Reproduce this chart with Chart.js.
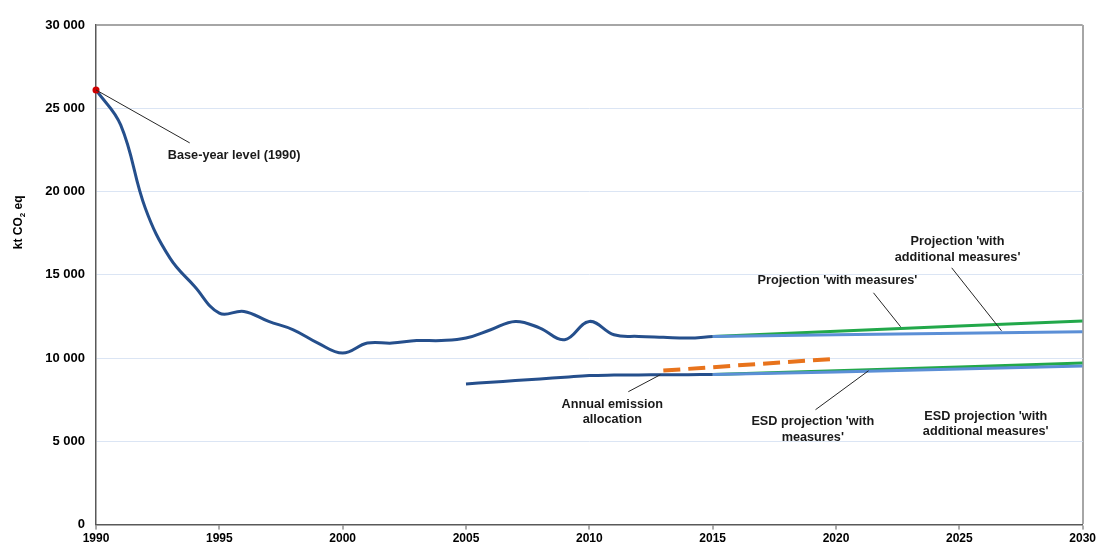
<!DOCTYPE html>
<html>
<head>
<meta charset="utf-8">
<script src="https://cdn.jsdelivr.net/npm/chart.js@4/dist/chart.umd.min.js"></script>
<style>
  html, body { margin: 0; padding: 0; background: #fff; overflow: hidden; }
  #wrap { width: 1098px; height: 548px; position: relative; }
</style>
</head>
<body>
<div id="wrap"><canvas id="chart"></canvas></div>
<script>
// historical total emissions (kt CO2 eq)
const histYears = [1990, 1991, 1992, 1993, 1994, 1995, 1996, 1997, 1998, 1999, 2000, 2001, 2002,
  2003, 2004, 2005, 2006, 2007, 2008, 2009, 2010, 2011, 2012, 2013, 2014, 2015];
const histValues = [26100, 24000, 19000, 16000, 14300, 12700, 12800, 12200, 11700, 10900, 10300, 10900, 10900,
  11050, 11050, 11200, 11700, 12200, 11800, 11100, 12200, 11400, 11300, 11250, 11200, 11300];

// projections of total emissions
const projYears = [2015, 2020, 2025, 2030];
const projWM = [11300, 11610, 11920, 12230];
const projWAM = [11300, 11400, 11490, 11580];

// ESD emissions
const esdYears = [2005, 2006, 2007, 2008, 2009, 2010, 2011, 2012, 2013, 2014, 2015];
const esdValues = [8450, 8550, 8650, 8750, 8850, 8950, 8980, 8990, 9000, 9000, 9020];
const esdWM = [9020, 9240, 9460, 9700];
const esdWAM = [9020, 9170, 9350, 9520];

// annual emission allocation
const aeaYears = [2013, 2014, 2015, 2016, 2017, 2018, 2019, 2020];
const aeaValues = [9250, 9350, 9450, 9560, 9660, 9760, 9860, 9950];

const baseYear = [1990];
const baseValue = [26100];

const yTicks = [0, 5000, 10000, 15000, 20000, 25000, 30000];
const xTicks = [1990, 1995, 2000, 2005, 2010, 2015, 2020, 2025, 2030];

// annotation labels and leader lines, in data units
const labels = [
  { x: 1995.6, lines: ['Base-year level (1990)'], y: [22140], leader: [1990, 26100, 1993.8, 22920] },
  { x: 2024.93, lines: ["Projection 'with", "additional measures'"], y: [16980, 16020], leader: [2024.69, 15420, 2026.71, 11640] },
  { x: 2020.06, lines: ["Projection 'with measures'"], y: [14640], leader: [2021.52, 13920, 2022.62, 11880] },
  { x: 2010.93, lines: ['Annual emission', 'allocation'], y: [7200, 6300], leader: [2011.58, 7980, 2012.88, 9000] },
  { x: 2019.06, lines: ["ESD projection 'with", "measures'"], y: [6180, 5220], leader: [2019.17, 6900, 2021.32, 9240] },
  { x: 2026.07, lines: ["ESD projection 'with", "additional measures'"], y: [6480, 5580] }
];

const FONT = '"Liberation Sans", Arial, sans-serif';

function pts(xs, ys) {
  return xs.map((x, i) => ({ x: x, y: ys[i] }));
}

function fmt(v) {
  return String(v).replace(/\B(?=(\d{3})+(?!\d))/g, ' ');
}

const annotationPlugin = {
  id: 'annotations',
  afterDatasetsDraw: chart => {
    const ctx = chart.ctx;
    const sx = chart.scales.x;
    const sy = chart.scales.y;
    ctx.save();
    ctx.strokeStyle = '#262626';
    ctx.lineWidth = 1;
    ctx.fillStyle = '#1a1a1a';
    ctx.font = 'bold 12.7px ' + FONT;
    ctx.textAlign = 'center';
    ctx.textBaseline = 'middle';
    labels.forEach(l => {
      if (l.leader) {
        ctx.beginPath();
        ctx.moveTo(sx.getPixelForValue(l.leader[0]), sy.getPixelForValue(l.leader[1]));
        ctx.lineTo(sx.getPixelForValue(l.leader[2]), sy.getPixelForValue(l.leader[3]));
        ctx.stroke();
      }
      l.lines.forEach((t, i) => {
        ctx.fillText(t, sx.getPixelForValue(l.x), sy.getPixelForValue(l.y[i]));
      });
    });
    // y axis title
    const a = chart.chartArea;
    ctx.translate(19, a.top + (a.bottom - a.top) * 0.395);
    ctx.rotate(-Math.PI / 2);
    ctx.fillStyle = '#000';
    ctx.textAlign = 'left';
    const p1 = 'kt CO';
    const p3 = ' eq';
    ctx.font = 'bold 8px ' + FONT;
    const w2 = ctx.measureText('2').width;
    ctx.font = 'bold 12px ' + FONT;
    const w1 = ctx.measureText(p1).width;
    const w3 = ctx.measureText(p3).width;
    const x0 = -(w1 + w2 + w3) / 2;
    ctx.fillText(p1, x0, 0);
    ctx.font = 'bold 8px ' + FONT;
    ctx.fillText('2', x0 + w1, 4);
    ctx.font = 'bold 12px ' + FONT;
    ctx.fillText(p3, x0 + w1 + w2, 0);
    ctx.restore();
  }
};

const ctx = document.getElementById('chart').getContext('2d');
new Chart(ctx, {
  type: 'line',
  data: {
    datasets: [
      { label: 'Base year', data: pts(baseYear, baseValue), showLine: false, clip: false,
        pointRadius: 3.5, pointBackgroundColor: '#d00000', pointBorderWidth: 0 },
      { label: 'Total emissions', data: pts(histYears, histValues), borderColor: '#254f8c',
        borderWidth: 3, tension: 0.4 },
      { label: 'ESD emissions', data: pts(esdYears, esdValues), borderColor: '#254f8c',
        borderWidth: 3, tension: 0.4 },
      { label: 'AEA', data: pts(aeaYears, aeaValues), borderColor: '#e8731c',
        borderWidth: 4, borderDash: [17, 8] },
      { label: 'WAM', data: pts(projYears, projWAM), borderColor: '#5b8fd6', borderWidth: 3 },
      { label: 'ESD WAM', data: pts(projYears, esdWAM), borderColor: '#5b8fd6', borderWidth: 3 },
      { label: 'WM', data: pts(projYears, projWM), borderColor: '#22a84a', borderWidth: 3 },
      { label: 'ESD WM', data: pts(projYears, esdWM), borderColor: '#22a84a', borderWidth: 3 }
    ].map(ds => ({ pointRadius: 0, fill: false, ...ds }))
  },
  options: {
    responsive: true,
    maintainAspectRatio: false,
    animation: false,
    layout: { padding: { top: 25, right: 0, bottom: 0, left: 0 } },
    scales: {
      x: {
        type: 'linear',
        min: 1990,
        max: 2030,
        afterBuildTicks: axis => { axis.ticks = xTicks.map(v => ({ value: v })); },
        ticks: {
          color: '#000',
          font: { family: FONT, size: 12, weight: 'bold' },
          padding: 2,
          maxRotation: 0,
          callback: v => String(v)
        },
        grid: {
          drawOnChartArea: true,
          color: c => (c.tick && c.tick.value === 2030 ? '#a6a6a6' : 'rgba(0,0,0,0)'),
          lineWidth: c => (c.tick && c.tick.value === 2030 ? 2 : 0),
          tickColor: '#595959',
          tickLength: 5,
          tickWidth: 1
        },
        border: { color: '#595959', width: 1.5 }
      },
      y: {
        min: 0,
        max: 30000,
        afterBuildTicks: axis => { axis.ticks = yTicks.map(v => ({ value: v })); },
        afterFit: scale => { scale.width = 96; },
        ticks: {
          color: '#000',
          font: { family: FONT, size: 13, weight: 'bold' },
          padding: 11,
          callback: v => fmt(v)
        },
        grid: {
          drawTicks: false,
          color: c => (c.tick && c.tick.value === 30000 ? '#a6a6a6' : '#dbe5f4'),
          lineWidth: c => (c.tick && c.tick.value === 30000 ? 2 : 1)
        },
        border: { color: '#595959', width: 1.5 }
      }
    },
    plugins: {
      legend: { display: false },
      tooltip: { enabled: false },
      title: { display: false }
    }
  },
  plugins: [annotationPlugin]
});
</script>
</body>
</html>
